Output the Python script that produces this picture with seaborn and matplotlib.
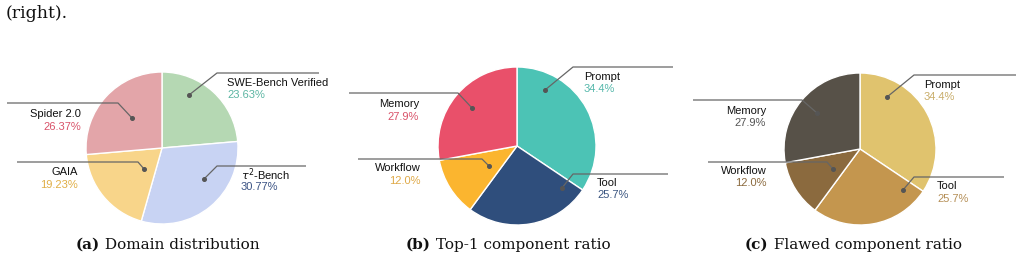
import matplotlib
matplotlib.use('Agg')
import matplotlib.pyplot as plt
import seaborn as sns

# ---- data ----
domain_labels = ['SWE-Bench Verified', r'$\tau^2$-Bench', 'GAIA', 'Spider 2.0']
domain_values = [23.63, 30.77, 19.23, 26.37]
domain_pct = ['23.63%', '30.77%', '19.23%', '26.37%']

component_labels = ['Prompt', 'Tool', 'Workflow', 'Memory']
top1_values = [34.4, 25.7, 12.0, 27.9]
flawed_values = [34.4, 25.7, 12.0, 27.9]
component_pct = ['34.4%', '25.7%', '12.0%', '27.9%']

captions = [('(a)', 'Domain distribution'),
            ('(b)', 'Top-1 component ratio'),
            ('(c)', 'Flawed component ratio')]

# ---- colours ----
pal_a = sns.color_palette(['#b5d8b3', '#c8d3f3', '#f8d58a', '#e3a5a9'])
txt_a = ['#5bb5a2', '#3b5384', '#e0ae45', '#d9536a']
pal_b = sns.color_palette(['#4cc3b5', '#2f4e7c', '#fbb52f', '#e9506a'])
txt_b = ['#55b8ab', '#3a5580', '#dfa947', '#d9536a']
pal_c = sns.color_palette(['#e0c36e', '#c4964e', '#8b6a3e', '#575148'])
txt_c = ['#c9ad6a', '#b58f57', '#8b6a3e', '#555555']

sns.set_theme(style='white')
plt.rcParams['font.family'] = ['Liberation Sans', 'DejaVu Sans']
plt.rcParams['mathtext.fontset'] = 'dejavusans'

W, H = 1022, 261
fig = plt.figure(figsize=(W / 100, H / 100), dpi=100)
ax = fig.add_axes([0, 0, 1, 1])

# pie layout: centre (px), radius (px)
pies = [
    dict(values=domain_values, colors=pal_a, center=(162, 148), r=76),
    dict(values=top1_values, colors=pal_b, center=(517, 146), r=79),
    dict(values=flawed_values, colors=pal_c, center=(860, 149), r=76),
]
# y axis is inverted (pixel coords), so start at -90 and go "counterclock" = visual clockwise
for p in pies:
    ax.pie(p['values'], colors=p['colors'], center=p['center'], radius=p['r'],
           startangle=-90, counterclock=True, frame=True,
           wedgeprops=dict(edgecolor='white', linewidth=1.0))

# label layout: dot, elbow, line end, text x, text y, alignment
layout_a = [((189, 95), (217, 73), (319, 73), 227, 83, 'left'),
            ((204, 179), (217, 166), (306, 166), 241, 175, 'left'),
            ((144, 169), (138, 162), (17, 162), 78, 172, 'right'),
            ((132, 118), (118, 103), (7, 103), 81, 114, 'right')]
layout_b = [((545, 90), (573, 67), (673, 67), 584, 77, 'left'),
            ((562, 188), (573, 174), (668, 174), 597, 183, 'left'),
            ((489, 166), (482, 159), (358, 159), 421, 168, 'right'),
            ((472, 108), (458, 93), (349, 93), 419, 104, 'right')]
layout_c = [((887, 97), (914, 75), (1016, 75), 924, 85, 'left'),
            ((903, 190), (914, 177), (1004, 177), 937, 186, 'left'),
            ((833, 169), (827, 162), (708, 162), 767, 171, 'right'),
            ((817, 113), (802, 100), (693, 100), 766, 111, 'right')]


def draw_labels(layout, names, pcts, pct_colors):
    for (dot, elbow, end, tx, ty, ha), name, pct, c in zip(layout, names, pcts, pct_colors):
        ax.plot([dot[0], elbow[0], end[0]], [dot[1], elbow[1], end[1]],
                color='#666666', lw=0.9, solid_capstyle='butt', zorder=3)
        ax.plot(dot[0], dot[1], 'o', ms=2.6, color='#555555', zorder=4)
        ax.text(tx, ty, name, ha=ha, va='center', fontsize=8, color='#111111')
        ax.text(tx, ty + 12.5, pct, ha=ha, va='center', fontsize=8, color=c)


draw_labels(layout_a, domain_labels, domain_pct, txt_a)
draw_labels(layout_b, component_labels, component_pct, txt_b)
draw_labels(layout_c, component_labels, component_pct, txt_c)

# captions (serif, bold sub-label)
cap_x = [76, 406, 745]
for (tag, text), x in zip(captions, cap_x):
    t = ax.text(x, 245, tag, ha='left', va='center', fontsize=11,
                fontweight='bold', family='DejaVu Serif', color='#111111')
    ax.annotate(' ' + text, xy=(1, 0.5), xycoords=t, ha='left', va='center',
                fontsize=11, family='DejaVu Serif', color='#111111')

# tail of the paper text above the figure
ax.text(6, 14, '(right).', ha='left', va='center', fontsize=12.5,
        family='DejaVu Serif', color='#111111')

ax.set_xlim(0, W)
ax.set_ylim(H, 0)
ax.set_aspect('equal')
ax.axis('off')

fig.savefig('out.png', dpi=100)
